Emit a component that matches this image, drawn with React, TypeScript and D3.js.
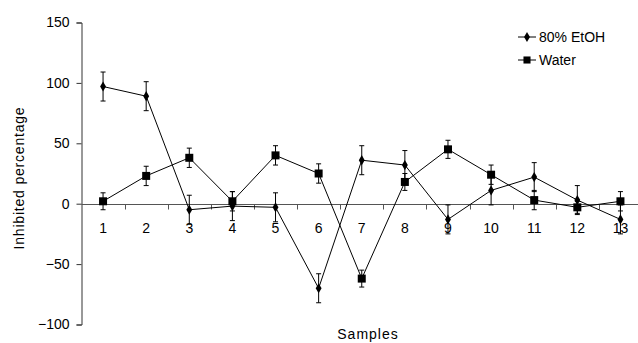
import { axisLeft, line, scaleLinear, scaleBand, select, symbol, symbolDiamond, symbolSquare } from "d3";
import React, { useEffect, useRef } from "react";

const samples = ["1", "2", "3", "4", "5", "6", "7", "8", "9", "10", "11", "12", "13"];
const etoh = [97, 89, -5, -2, -3, -70, 36, 32, -13, 11, 22, 3, -13];
const etohErr = [12, 12, 12, 12, 12, 12, 12, 12, 12, 12, 12, 12, 12];
const water = [2, 23, 38, 2, 40, 25, -62, 18, 45, 24, 3, -3, 2];
const waterErr = [7, 8, 8, 8, 8, 8, 7, 7, 7.5, 8, 8, 5, 8];
const yTicks = [-100, -50, 0, 50, 100, 150];

const FONT = "'Liberation Sans', Arial, sans-serif";

function App() {
  const svgRef = useRef(null);

  useEffect(() => {
    const svg = select(svgRef.current);
    svg.selectAll("*").remove();

    const x = scaleBand().domain(samples).range([81.5, 642]);
    const y = scaleLinear().domain([-100, 150]).range([324.5, 22.5]);
    const cx = (i) => x(samples[i]) + x.bandwidth() / 2;

    // y axis
    const yAxis = axisLeft(y).tickValues(yTicks).tickSize(5).tickPadding(7);
    const gy = svg.append("g").attr("transform", "translate(81.5,0)").call(yAxis);
    gy.select(".domain").attr("stroke", "#333");
    gy.selectAll(".tick line").attr("stroke", "#333");
    gy.selectAll("text").style("font-family", FONT).style("font-size", "14px").attr("fill", "#000");

    // x axis through zero, ticks between categories
    const gx = svg.append("g").attr("transform", `translate(0,${Math.round(y(0)) + 0.5})`);
    gx.append("line").attr("x1", 81.5).attr("x2", 642).attr("stroke", "#555");
    gx.selectAll(".xt")
      .data(samples.slice(0, -1))
      .join("line")
      .attr("class", "xt")
      .attr("x1", (d) => Math.round(x(d) + x.bandwidth()) + 0.5)
      .attr("x2", (d) => Math.round(x(d) + x.bandwidth()) + 0.5)
      .attr("y1", 0)
      .attr("y2", 5)
      .attr("stroke", "#555");
    gx.selectAll(".xl")
      .data(samples)
      .join("text")
      .attr("class", "xl")
      .attr("x", (d, i) => cx(i))
      .attr("y", 28)
      .attr("text-anchor", "middle")
      .style("font-family", FONT)
      .style("font-size", "14px")
      .text((d) => d);

    const series = [
      { vals: etoh, err: etohErr, sym: symbol(symbolDiamond, 30) },
      { vals: water, err: waterErr, sym: symbol(symbolSquare, 64) },
    ];

    const ln = line()
      .x((d, i) => cx(i))
      .y((d) => y(d));

    series.forEach((s) => {
      const g = svg.append("g");
      g.append("path").attr("d", ln(s.vals)).attr("fill", "none").attr("stroke", "#000").attr("stroke-width", 1);
      const eb = g.selectAll(".eb").data(s.vals).join("g").attr("class", "eb");
      eb.append("line")
        .attr("x1", (d, i) => cx(i))
        .attr("x2", (d, i) => cx(i))
        .attr("y1", (d, i) => y(d + s.err[i]))
        .attr("y2", (d, i) => y(d - s.err[i]))
        .attr("stroke", "#000");
      [1, -1].forEach((sg) => {
        eb.append("line")
          .attr("x1", (d, i) => cx(i) - 2.5)
          .attr("x2", (d, i) => cx(i) + 2.5)
          .attr("y1", (d, i) => y(d + sg * s.err[i]))
          .attr("y2", (d, i) => y(d + sg * s.err[i]))
          .attr("stroke", "#000");
      });
      g.selectAll(".pt")
        .data(s.vals)
        .join("path")
        .attr("class", "pt")
        .attr("d", s.sym)
        .attr("transform", (d, i) => `translate(${cx(i)},${y(d)})`)
        .attr("fill", "#000");
    });

    // legend
    const legend = [
      { label: "80% EtOH", sym: symbol(symbolDiamond, 30) },
      { label: "Water", sym: symbol(symbolSquare, 50) },
    ];
    const lg = svg.selectAll(".lg").data(legend).join("g").attr("class", "lg")
      .attr("transform", (d, i) => `translate(518,${37 + i * 23})`);
    lg.append("line").attr("x1", 0).attr("x2", 18).attr("stroke", "#000");
    lg.append("path").attr("d", (d) => d.sym()).attr("transform", "translate(9,0)").attr("fill", "#000");
    lg.append("text")
      .attr("x", 21)
      .attr("y", 5)
      .style("font-family", FONT)
      .style("font-size", "14px")
      .text((d) => d.label);

    // axis titles
    svg.append("text")
      .attr("transform", "translate(24,178) rotate(-90)")
      .attr("text-anchor", "middle")
      .style("font-family", FONT)
      .style("font-size", "14px")
      .style("letter-spacing", "0.8px")
      .text("Inhibited percentage");
    svg.append("text")
      .attr("x", 368)
      .attr("y", 339)
      .attr("text-anchor", "middle")
      .style("font-family", FONT)
      .style("font-size", "14px")
      .style("letter-spacing", "1px")
      .text("Samples");
  });

  return (
    <svg
      ref={svgRef}
      width={638}
      height={343}
      style={{ position: "absolute", left: 0, top: 0, background: "#fff" }}
    ></svg>
  );
}

export default App;
